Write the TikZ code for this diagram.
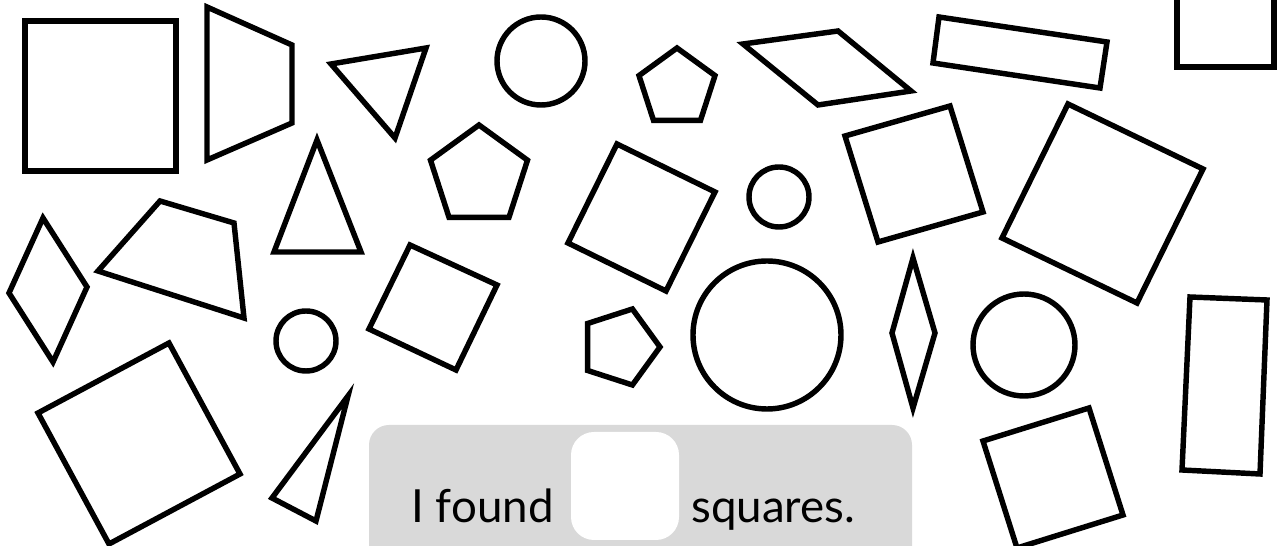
\documentclass[tikz,border=0pt]{standalone}
\usepackage{fontspec}
\setmainfont{Lato}
\usepackage{tikz}
\definecolor{panelgray}{HTML}{D9D9D9}

\begin{document}
\begin{tikzpicture}[x=0.02cm, y=-0.02cm,
  shp/.style={draw=black, line width=3.1pt, line join=miter},
  panel/.style={fill=panelgray, rounded corners=20*0.02cm},
  answer/.style={fill=white, rounded corners=23*0.02cm},
  word/.style={anchor=base west, inner sep=0pt, font=\fontsize{26}{31}\selectfont}]
\useasboundingbox (0,0) rectangle (1286,546);
\clip (0,0) rectangle (1286,546);
% squares and rectangles
\draw[shp] (25,21) rectangle (176,171);
\draw[shp] (1177,-30) rectangle (1274,67);
\draw[shp] (617,144) -- (715,192) -- (666,291) -- (568,243) -- cycle;
\draw[shp] (845,136) -- (950,106) -- (983,212) -- (878,242) -- cycle;
\draw[shp] (1068,104) -- (1203,169) -- (1137,303) -- (1002,238) -- cycle;
\draw[shp] (410,245) -- (497,285) -- (456,370) -- (369,329) -- cycle;
\draw[shp] (169,343) -- (240,474) -- (109,544) -- (38,413) -- cycle;
\draw[shp] (983,441) -- (1089,408) -- (1123,515) -- (1017,548) -- cycle;
\draw[shp] (939,17) -- (1107,42) -- (1100,88) -- (933,63) -- cycle;
\draw[shp] (1190,297) -- (1267,300) -- (1260,474) -- (1182,470) -- cycle;
% other quadrilaterals
\draw[shp] (207,7) -- (292,45) -- (292,123) -- (207,160) -- cycle;
\draw[shp] (160,201) -- (234,223) -- (244,318) -- (98,271) -- cycle;
\draw[shp] (743,44) -- (838,31) -- (911,91) -- (818,105) -- cycle;
\draw[shp] (43,218) -- (87,287) -- (53,362) -- (9,293) -- cycle;
\draw[shp] (913,258) -- (935,333) -- (913,408) -- (892,333) -- cycle;
% triangles
\draw[shp] (331,64) -- (426,48) -- (395,138) -- cycle;
\draw[shp] (317,140) -- (361,252) -- (274,252) -- cycle;
\draw[shp] (348,396) -- (316,521) -- (272,498) -- cycle;
% pentagons
\draw[shp] (677,48) -- (715,75.6) -- (700.5,120.4) -- (653.5,120.4) -- (639,75.6) -- cycle;
\draw[shp] (479,125) -- (527.5,160.2) -- (509,217.3) -- (449,217.3) -- (430.5,160.2) -- cycle;
\draw[shp] (660,347) -- (632.4,385) -- (587.6,370.5) -- (587.6,323.5) -- (632.4,309) -- cycle;
% circles
\foreach \cx/\cy/\r in {541/61/44, 779/197/30, 306/341/30, 767/335/74, 1024/345/51}{
  \draw[shp] (\cx,\cy) circle[radius=\r*0.02cm];
}
% answer panel
\fill[panel] (369,425) rectangle (912,580);
\fill[answer] (571,432) rectangle (679,540);
\node[word] (found) at (411,523) {I found};
\node[word] (sq) at (691,523) {squares.};
\end{tikzpicture}
\end{document}
